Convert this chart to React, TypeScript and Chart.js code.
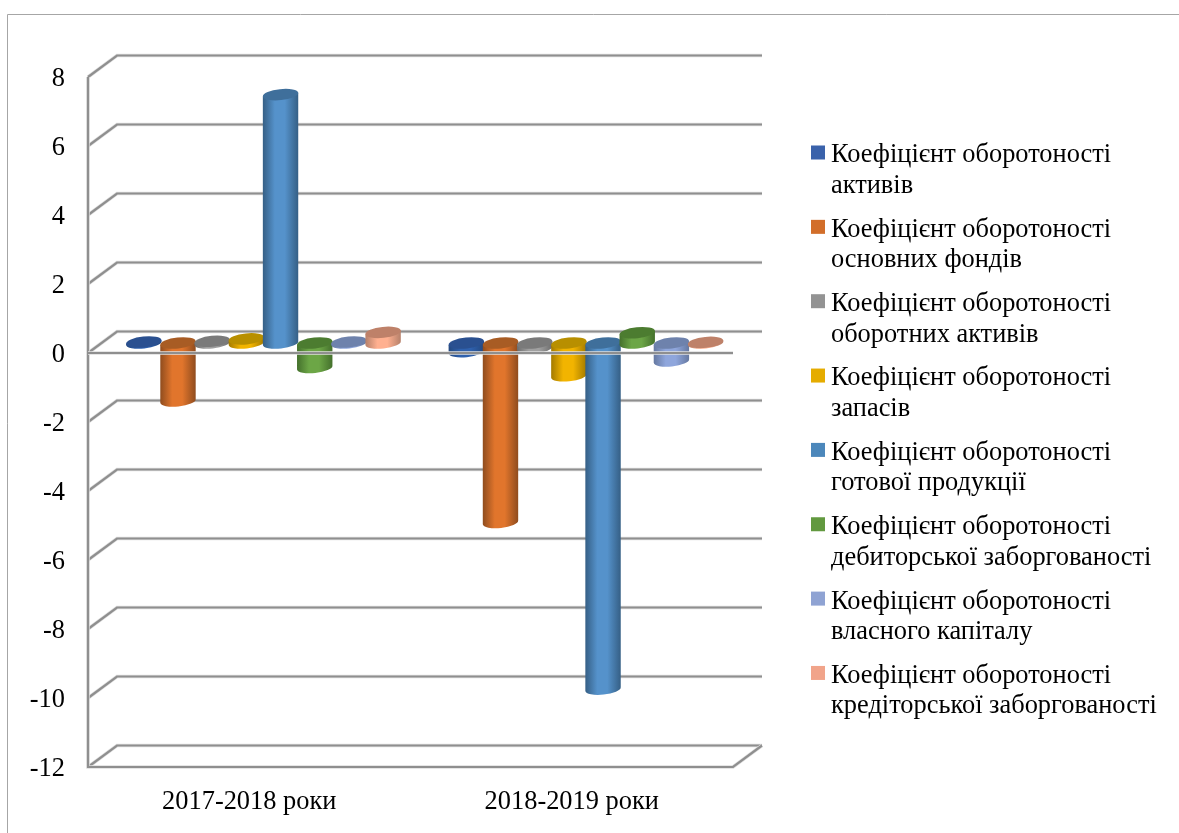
import React, { useEffect, useRef } from "react";
import { Chart, registerables } from "chart.js";

Chart.register(...registerables);

const periods = ["2017-2018 роки", "2018-2019 роки"];
const yTicks = [8, 6, 4, 2, 0, -2, -4, -6, -8, -10, -12];

// Turnover ratios per period
const assetsTurnover = [0.03, -0.25];
const fixedAssetsTurnover = [-1.68, -5.2];
const currentAssetsTurnover = [0.05, -0.15];
const inventoryTurnover = [0.12, -0.95];
const finishedGoodsTurnover = [7.2, -10.03];
const receivablesTurnover = [-0.71, 0.3];
const equityTurnover = [0.03, -0.52];
const payablesTurnover = [0.31, 0.02];

const seriesValues = [
  assetsTurnover,
  fixedAssetsTurnover,
  currentAssetsTurnover,
  inventoryTurnover,
  finishedGoodsTurnover,
  receivablesTurnover,
  equityTurnover,
  payablesTurnover,
];

const seriesLabels = [
  ["Коефіцієнт оборотоності", "активів"],
  ["Коефіцієнт оборотоності", "основних фондів"],
  ["Коефіцієнт оборотоності", "оборотних активів"],
  ["Коефіцієнт оборотоності", "запасів"],
  ["Коефіцієнт оборотоності", "готової продукції"],
  ["Коефіцієнт оборотоності", "дебиторської заборгованості"],
  ["Коефіцієнт оборотоності", "власного капіталу"],
  ["Коефіцієнт оборотоності", "кредіторської заборгованості"],
];

const legendColors = ["#3A62AB", "#D26E2A", "#939393", "#E5AC00", "#4C87BB", "#62993F", "#8FA3D3", "#F1A48A"];
const bodyColors = ["#2F61AE", "#E1752C", "#A0A0A0", "#F2B400", "#5592CB", "#6CA646", "#8FA6DC", "#FFB090"];
const edgeColors = ["#23487F", "#8F4C1E", "#6C6C6C", "#A37A00", "#355F85", "#44702C", "#6578A0", "#B5806A"];
const capColors = ["#2A5090", "#A85C24", "#7A7A7A", "#B88F00", "#3F6F9B", "#4C7C30", "#6E82AC", "#BE8169"];

const FONT = '"Liberation Serif", "Times New Roman", serif';
const FONT_SIZE = 26.4;
const GRID = "#8F8F8F";
const HALO = "#DEDEDE";
const DEPTH_X = 29;
const DEPTH_Y = 21.5;
const TILT = (-6 * Math.PI) / 180;
const CAP_RY = 5.5;

function stroke(ctx: CanvasRenderingContext2D, pts: number[][], color = GRID, width = 2) {
  ctx.strokeStyle = color;
  ctx.lineWidth = width;
  ctx.lineJoin = "miter";
  ctx.beginPath();
  pts.forEach(([x, y], i) => (i ? ctx.lineTo(x, y) : ctx.moveTo(x, y)));
  ctx.stroke();
}

function gridLine(ctx: CanvasRenderingContext2D, pts: number[][]) {
  stroke(ctx, pts, HALO, 3.5);
  stroke(ctx, pts, GRID, 2.2);
}

// Back wall, side wall and floor of the 3D box
const wallsPlugin = {
  id: "walls",
  beforeDatasetsDraw(chart: any) {
    const { ctx, chartArea: a, scales } = chart;
    ctx.save();
    ctx.strokeStyle = "#A6A6A6";
    ctx.lineWidth = 1;
    ctx.beginPath();
    ctx.moveTo(7.5, 833);
    ctx.lineTo(7.5, 14.5);
    ctx.lineTo(1179, 14.5);
    ctx.stroke();
    for (const t of scales.y.ticks) {
      const y = scales.y.getPixelForValue(t.value);
      gridLine(ctx, [
        [a.left, y],
        [a.left + DEPTH_X, y - DEPTH_Y],
        [a.right + DEPTH_X, y - DEPTH_Y],
      ]);
    }
    gridLine(ctx, [
      [a.left, a.top],
      [a.left, a.bottom],
      [a.right, a.bottom],
      [a.right + DEPTH_X, a.bottom - DEPTH_Y],
    ]);
    ctx.restore();
  },
  // Bars are painted as cylinders below, left to right
  beforeDatasetDraw() {
    return false;
  },
  afterDatasetsDraw(chart: any) {
    const { ctx, chartArea: a, scales } = chart;
    ctx.save();
    ctx.translate(DEPTH_X / 2 - 0.3, -DEPTH_Y / 2 + 0.8);
    for (let c = 0; c < periods.length; c++) {
      for (let s = 0; s < seriesValues.length; s++) {
        const el = chart.getDatasetMeta(s).data[c];
        const rx = el.width / 2 + 0.7;
        const yHigh = Math.min(el.y, el.base);
        const yLow = Math.max(el.y, el.base);
        const dx = rx * Math.cos(TILT);
        const dy = rx * Math.sin(TILT);
        const g = ctx.createLinearGradient(el.x - rx, 0, el.x + rx, 0);
        g.addColorStop(0, edgeColors[s]);
        g.addColorStop(0.34, bodyColors[s]);
        g.addColorStop(0.62, bodyColors[s]);
        g.addColorStop(1, edgeColors[s]);
        ctx.fillStyle = g;
        ctx.beginPath();
        ctx.moveTo(el.x - dx, yHigh - dy);
        ctx.ellipse(el.x, yLow, rx, CAP_RY, TILT, Math.PI, 0, true);
        ctx.lineTo(el.x + dx, yHigh + dy);
        ctx.closePath();
        ctx.fill();
        ctx.fillStyle = capColors[s];
        ctx.beginPath();
        ctx.ellipse(el.x, yHigh, rx, CAP_RY, TILT, 0, Math.PI * 2);
        ctx.fill();
      }
    }
    ctx.restore();
    // The front zero line runs across the columns
    const y0 = scales.y.getPixelForValue(0);
    ctx.save();
    gridLine(ctx, [
      [a.left, y0],
      [a.right, y0],
    ]);
    ctx.restore();
  },
};

// Two-line legend entries to the right of the plot
const legendPlugin = {
  id: "sideLegend",
  afterDraw(chart: any) {
    const { ctx } = chart;
    ctx.save();
    ctx.font = `${FONT_SIZE}px ${FONT}`;
    ctx.textBaseline = "middle";
    ctx.textAlign = "left";
    seriesLabels.forEach((lines, i) => {
      const y = 155.5 + i * 74.35;
      ctx.fillStyle = legendColors[i];
      ctx.fillRect(811, y - 10, 14, 14);
      ctx.fillStyle = "#000000";
      lines.forEach((line, j) => ctx.fillText(line, 831, y + j * 30.5));
    });
    ctx.restore();
  },
};

export default function App() {
  const ref = useRef<HTMLCanvasElement>(null);

  useEffect(() => {
    document.body.style.margin = "0";
    const chart = new Chart(ref.current as HTMLCanvasElement, {
      type: "bar",
      data: {
        labels: periods,
        datasets: seriesValues.map((data, i) => ({
          label: seriesLabels[i].join(" "),
          data,
          backgroundColor: legendColors[i],
          categoryPercentage: 0.848,
          barPercentage: 1,
        })),
      },
      options: {
        responsive: false,
        animation: false,
        layout: { padding: { top: 77, right: 446, bottom: 0, left: 0 } },
        plugins: { legend: { display: false }, tooltip: { enabled: false } },
        scales: {
          x: {
            grid: { display: false, drawTicks: false },
            border: { display: false },
            ticks: { color: "#000000", padding: 19, maxRotation: 0, font: { family: FONT, size: FONT_SIZE } },
            afterFit(scale: any) {
              scale.height = 66;
            },
          },
          y: {
            min: -12,
            max: 8,
            afterBuildTicks(scale: any) {
              scale.ticks = yTicks.map((value) => ({ value }));
            },
            grid: { display: false, drawTicks: false },
            border: { display: false },
            ticks: { color: "#000000", padding: 23, labelOffset: 2, font: { family: FONT, size: FONT_SIZE } },
            afterFit(scale: any) {
              scale.width = 88;
            },
          },
        },
      },
      plugins: [wallsPlugin, legendPlugin],
    } as any);
    return () => chart.destroy();
  }, []);

  return <canvas ref={ref} width={1179} height={833} style={{ display: "block" }} />;
}
